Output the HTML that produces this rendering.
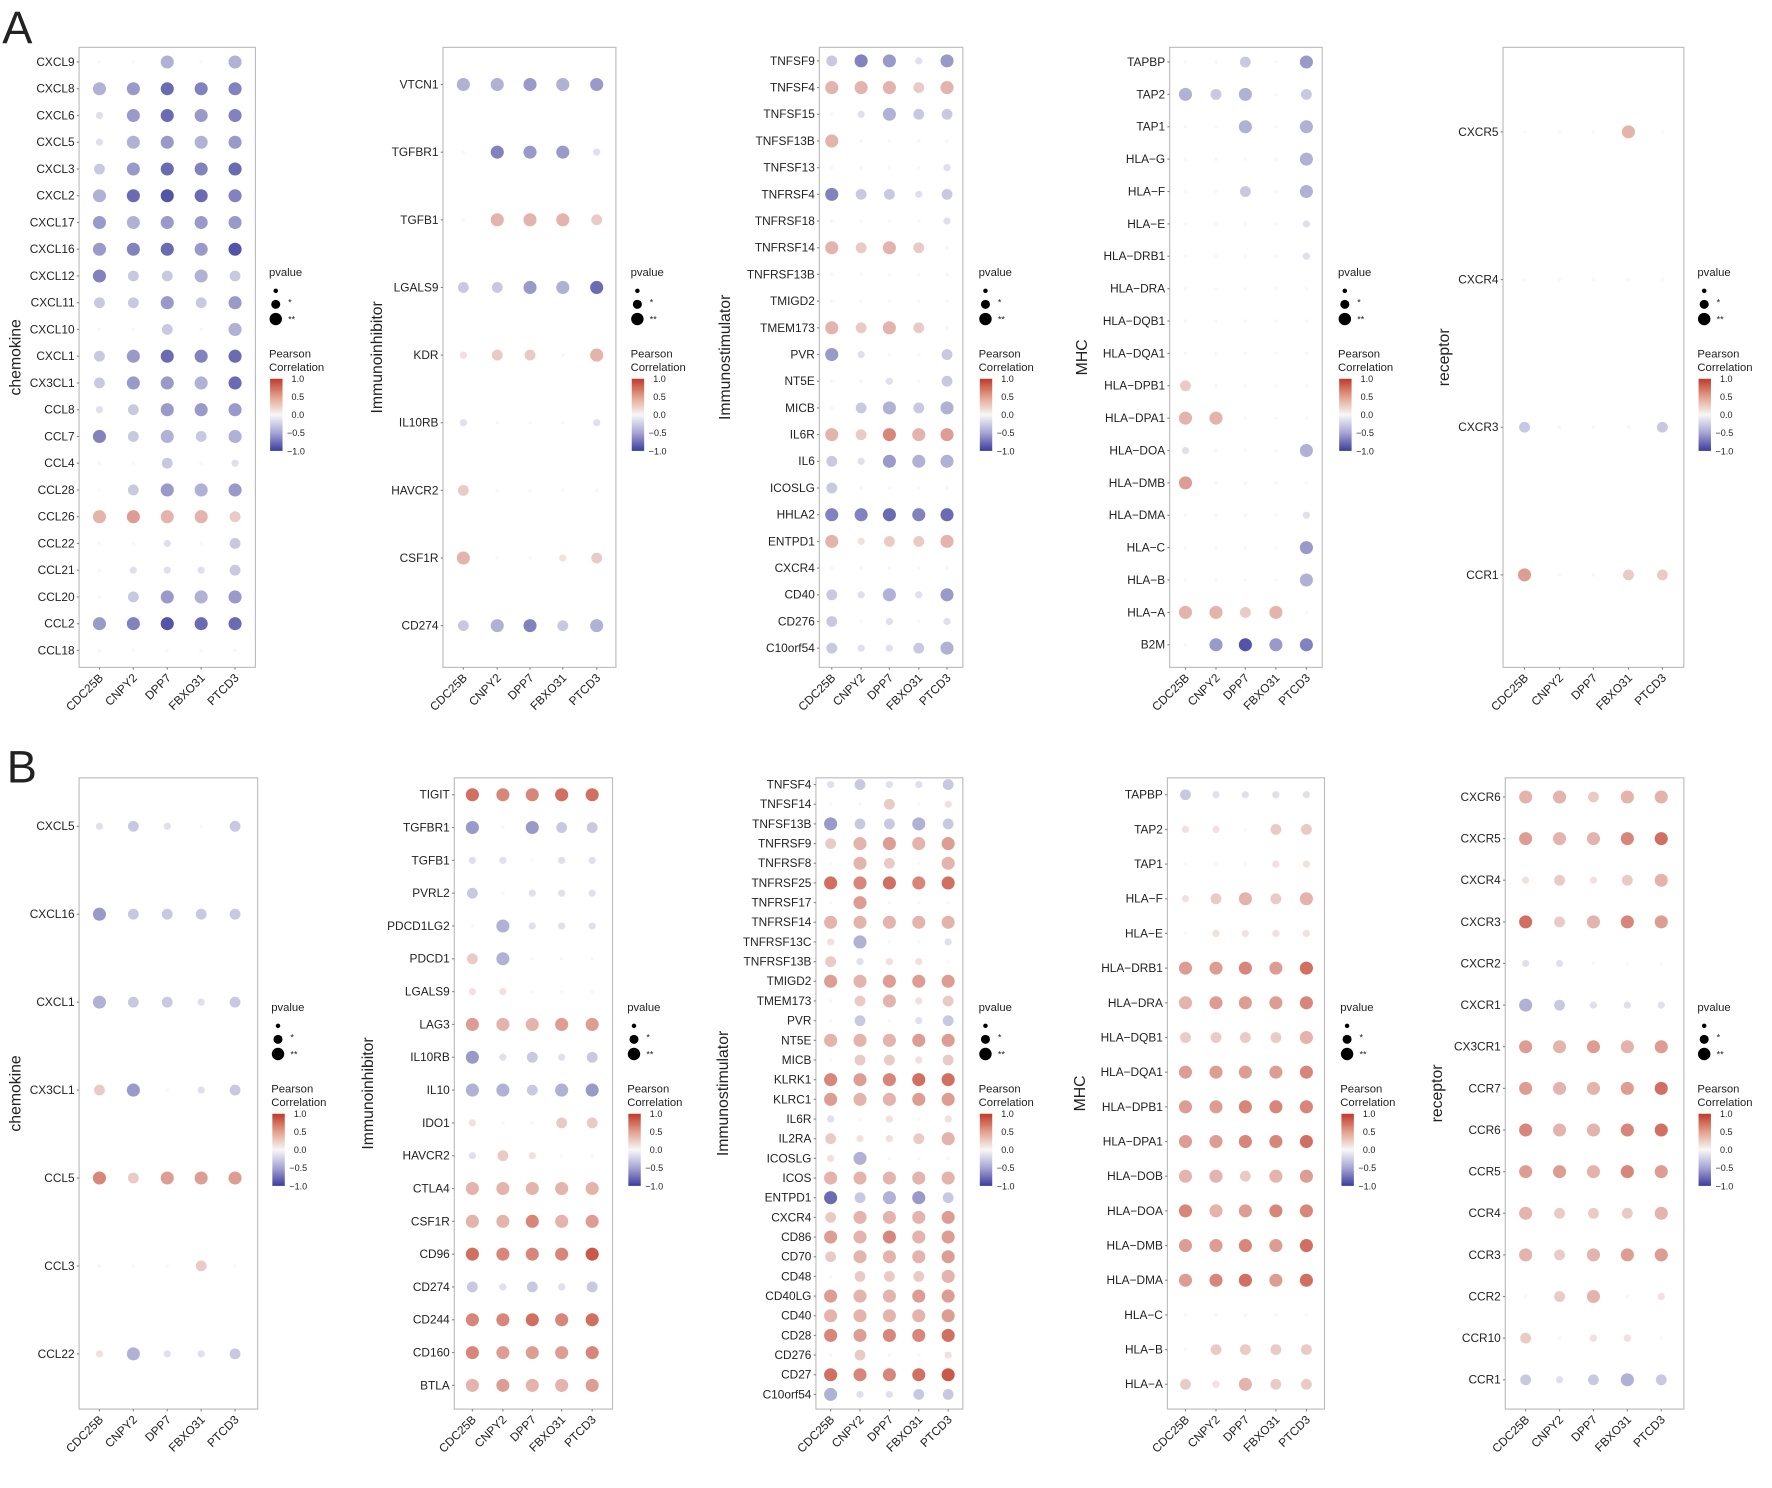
<!DOCTYPE html>
<html><head><meta charset="utf-8"><style>
html,body{margin:0;padding:0;background:#fff;}
svg{display:block;}
text{font-family:"Liberation Sans",Arial,sans-serif;fill:#222;}
</style></head><body>
<svg id="s" width="1772" height="1488" viewBox="0 0 1568 1320" preserveAspectRatio="none" xmlns="http://www.w3.org/2000/svg">
<defs><linearGradient id="g" x1="0" y1="0" x2="0" y2="1">
<stop offset="0" stop-color="#c0392b"/><stop offset="0.25" stop-color="#e3a08c"/><stop offset="0.5" stop-color="#f7f7f7"/><stop offset="0.75" stop-color="#a7a4d4"/><stop offset="1" stop-color="#3b3d9e"/></linearGradient></defs>
<text x="2" y="38" font-size="40">A</text>
<text x="6" y="694" font-size="40">B</text>
</svg>
<script>
var S=document.getElementById('s'),NS='http://www.w3.org/2000/svg';
function el(t,a,txt){var e=document.createElementNS(NS,t);for(var k in a)e.setAttribute(k,a[k]);if(txt!==undefined)e.textContent=txt;S.appendChild(e);return e;}
function col(n){var t=Math.min(1,Math.abs(n)/8);var w=[247,247,247],c=n>=0?[196,66,46]:[60,60,156];
return 'rgb('+w.map(function(v,i){return Math.round(v+(c[i]-v)*t)}).join(',')+')';}
var genes=['CDC25B','CNPY2','DPP7','FBXO31','PTCD3'];
function panel(p){
 el('rect',{x:p.b[0],y:p.b[2],width:p.b[1]-p.b[0],height:p.b[3]-p.b[2],fill:'none',stroke:'#bbb','stroke-width':1});
 var step=(p.yl-p.yf)/(p.rows.length-1);
 p.rows.forEach(function(r,i){var y=p.yf+i*step;
  el('text',{x:p.b[0]-4,y:y+3.5,'font-size':10.5,'text-anchor':'end'},r[0]);
  el('line',{x1:p.b[0]-2,x2:p.b[0],y1:y,y2:y,stroke:'#888'});
  r[1].forEach(function(n,j){var a=Math.abs(n);var rad=Math.min(5.8,1.6+1.6*a);
   el('circle',{cx:p.c[j],cy:y,r:rad,fill:col(n)});});
 });
 p.c.forEach(function(x,j){el('line',{x1:x,x2:x,y1:p.b[3],y2:p.b[3]+2,stroke:'#888'});
  el('text',{x:x+4,y:p.b[3]+10,'font-size':10.5,'text-anchor':'end',transform:'rotate(-45 '+(x+4)+' '+(p.b[3]+10)+')'},genes[j]);});
 var mid=(p.b[2]+p.b[3])/2;
 el('text',{x:p.tx,y:mid,'font-size':14,'text-anchor':'middle',transform:'rotate(-90 '+p.tx+' '+mid+')'},p.t);
 var L=p.L,o=p.o;
 el('text',{x:L,y:245+o,'font-size':10},'pvalue');
 el('circle',{cx:L+6,cy:258+o,r:2,fill:'#000'});
 el('circle',{cx:L+6,cy:270+o,r:4,fill:'#000'});el('text',{x:L+17,y:271+o,'font-size':8},'*');
 el('circle',{cx:L+6,cy:283+o,r:5.5,fill:'#000'});el('text',{x:L+17,y:286+o,'font-size':8},'**');
 el('text',{x:L,y:317+o,'font-size':10},'Pearson');el('text',{x:L,y:329+o,'font-size':10},'Correlation');
 el('rect',{x:L+1,y:336+o,width:11,height:64,fill:'url(#g)'});
 ['1.0','0.5','0.0','\u22120.5','\u22121.0'].forEach(function(s,i){el('text',{x:L+(i>2?16:20),y:339+o+i*16,'font-size':8},s);});
}
function R(s){return s.split(';').map(function(x){var q=x.split(':');return [q[0],q[1].split(',').map(Number)];});}
var A=0,B=652;
panel({b:[70,226,42,592],c:[88,118,148,178,208],yf:55,yl:577,L:238,o:A,tx:18,t:'chemokine',rows:R('CXCL9:0,0,-3,0,-3;CXCL8:-3,-4,-6,-5,-5;CXCL6:-1,-4,-6,-4,-5;CXCL5:-1,-3,-4,-3,-4;CXCL3:-2,-4,-6,-5,-6;CXCL2:-3,-6,-7,-6,-5;CXCL17:-4,-3,-4,-4,-4;CXCL16:-4,-5,-6,-4,-7;CXCL12:-5,-2,-2,-3,-2;CXCL11:-2,-2,-4,-2,-4;CXCL10:0,0,-2,0,-3;CXCL1:-2,-4,-6,-5,-6;CX3CL1:-2,-4,-4,-3,-6;CCL8:-1,-2,-4,-4,-4;CCL7:-5,-2,-3,-2,-3;CCL4:0,0,-2,0,-1;CCL28:0,-2,-4,-3,-4;CCL26:3,4,3,3,2;CCL22:0,0,-1,0,-2;CCL21:0,-1,-1,-1,-2;CCL20:0,-2,-4,-3,-4;CCL2:-4,-5,-7,-6,-6;CCL18:0,0,0,0,0')});
panel({b:[392,545,42,592],c:[410,440,469,498,528],yf:75,yl:555,L:558,o:A,tx:338,t:'Immunoinhibitor',rows:R('VTCN1:-3,-3,-4,-3,-4;TGFBR1:0,-5,-4,-4,-1;TGFB1:0,3,3,3,2;LGALS9:-2,-2,-4,-3,-6;KDR:1,2,2,0,3;IL10RB:-1,0,0,0,-1;HAVCR2:2,0,0,0,0;CSF1R:3,0,0,1,2;CD274:-2,-3,-5,-2,-3')});
panel({b:[725,852,42,592],c:[736,762,787,813,838],yf:54,yl:575,L:866,o:A,tx:646,t:'Immunostimulator',rows:R('TNFSF9:-2,-5,-4,-1,-4;TNFSF4:3,3,3,2,3;TNFSF15:0,-1,-3,-2,-2;TNFSF13B:3,0,0,0,0;TNFSF13:0,0,0,0,-1;TNFRSF4:-5,-2,-2,-1,-2;TNFRSF18:0,0,0,0,-1;TNFRSF14:3,2,3,2,0;TNFRSF13B:0,0,0,0,0;TMIGD2:0,0,0,0,0;TMEM173:3,2,3,2,0;PVR:-4,-1,0,0,-2;NT5E:0,0,-1,0,-2;MICB:0,-2,-3,-2,-3;IL6R:3,2,5,3,4;IL6:-2,-1,-4,-3,-3;ICOSLG:-2,0,0,0,0;HHLA2:-5,-5,-6,-5,-6;ENTPD1:3,1,2,2,3;CXCR4:0,0,0,0,0;CD40:-2,-1,-3,-1,-4;CD276:-2,0,-1,0,-1;C10orf54:-2,-1,-1,-2,-3')});
panel({b:[1035,1170,42,592],c:[1049,1076,1102,1129,1156],yf:55,yl:572,L:1184,o:A,tx:962,t:'MHC',rows:R('TAPBP:0,0,-2,0,-4;TAP2:-3,-2,-3,0,-2;TAP1:0,0,-3,0,-3;HLA\u2212G:0,0,0,0,-3;HLA\u2212F:0,0,-2,0,-3;HLA\u2212E:0,0,0,0,-1;HLA\u2212DRB1:0,0,0,0,-1;HLA\u2212DRA:0,0,0,0,0;HLA\u2212DQB1:0,0,0,0,0;HLA\u2212DQA1:0,0,0,0,0;HLA\u2212DPB1:2,0,0,0,0;HLA\u2212DPA1:3,3,0,0,0;HLA\u2212DOA:-1,0,0,0,-3;HLA\u2212DMB:4,0,0,0,0;HLA\u2212DMA:0,0,0,0,-1;HLA\u2212C:0,0,0,0,-4;HLA\u2212B:0,0,0,0,-3;HLA\u2212A:3,3,2,3,0;B2M:0,-4,-7,-4,-5')});
panel({b:[1330,1490,42,592],c:[1349,1380,1410,1441,1471],yf:117,yl:510,L:1502,o:A,tx:1282,t:'receptor',rows:R('CXCR5:0,0,0,3,0;CXCR4:0,0,0,0,0;CXCR3:-2,0,0,0,-2;CCR1:4,0,0,2,2')});
panel({b:[70,228,690,1250],c:[88,118,148,178,208],yf:733,yl:1201,L:240,o:B,tx:18,t:'chemokine',rows:R('CXCL5:-1,-2,-1,0,-2;CXCL16:-4,-2,-2,-2,-2;CXCL1:-3,-2,-2,-1,-2;CX3CL1:2,-4,0,-1,-2;CCL5:5,2,4,4,4;CCL3:0,0,0,2,0;CCL22:1,-3,-1,-1,-2')});
panel({b:[402,542,690,1250],c:[418,445,471,497,524],yf:705,yl:1229,L:555,o:B,tx:330,t:'Immunoinhibitor',rows:R('TIGIT:6,5,5,6,6;TGFBR1:-4,0,-4,-2,-2;TGFB1:-1,-1,0,-1,-1;PVRL2:-2,0,-1,-1,-1;PDCD1LG2:0,-3,-1,-1,-1;PDCD1:2,-3,0,0,0;LGALS9:1,1,0,0,0;LAG3:4,3,3,4,4;IL10RB:-4,-1,-2,-1,-2;IL10:-3,-3,-2,-3,-4;IDO1:1,0,0,2,2;HAVCR2:-1,2,1,0,0;CTLA4:3,3,3,3,3;CSF1R:3,3,5,3,4;CD96:6,5,5,5,7;CD274:-2,-1,-2,-1,-2;CD244:5,5,6,5,6;CD160:5,4,4,4,5;BTLA:3,4,3,3,4')});
panel({b:[722,852,690,1250],c:[735,761,787,813,839],yf:696,yl:1237,L:866,o:B,tx:644,t:'Immunostimulator',rows:R('TNFSF4:-1,-2,-1,-1,-2;TNFSF14:0,0,2,0,1;TNFSF13B:-4,-2,-2,-3,-2;TNFRSF9:2,3,4,3,4;TNFRSF8:0,3,2,0,3;TNFRSF25:6,5,6,5,6;TNFRSF17:0,4,0,0,0;TNFRSF14:3,3,3,3,3;TNFRSF13C:1,-3,0,0,-1;TNFRSF13B:2,-1,1,1,0;TMIGD2:4,3,4,4,4;TMEM173:0,2,3,1,2;PVR:0,-2,0,-1,-2;NT5E:3,3,3,4,4;MICB:0,2,2,1,2;KLRK1:5,4,5,6,6;KLRC1:4,3,3,4,4;IL6R:-1,0,1,0,1;IL2RA:2,1,1,2,3;ICOSLG:1,-3,0,0,0;ICOS:3,3,3,3,3;ENTPD1:-6,-2,-3,-4,-2;CXCR4:2,3,3,3,4;CD86:4,3,5,3,4;CD70:2,3,3,3,4;CD48:0,2,2,2,3;CD40LG:4,3,3,4,4;CD40:3,3,3,3,4;CD28:5,4,5,5,6;CD276:0,2,0,0,1;CD27:6,5,5,6,7;C10orf54:-3,-1,-1,-2,-2')});
panel({b:[1033,1172,690,1250],c:[1049,1076,1102,1129,1156],yf:705,yl:1228,L:1186,o:B,tx:960,t:'MHC',rows:R('TAPBP:-2,-1,-1,-1,-1;TAP2:1,1,0,2,2;TAP1:0,0,0,1,1;HLA\u2212F:1,2,3,2,3;HLA\u2212E:0,1,1,1,1;HLA\u2212DRB1:4,4,5,4,6;HLA\u2212DRA:3,4,4,4,5;HLA\u2212DQB1:2,2,2,2,3;HLA\u2212DQA1:4,4,4,4,5;HLA\u2212DPB1:4,4,5,5,5;HLA\u2212DPA1:4,4,5,5,6;HLA\u2212DOB:3,3,2,3,4;HLA\u2212DOA:5,3,4,5,5;HLA\u2212DMB:4,4,5,4,6;HLA\u2212DMA:4,5,6,4,6;HLA\u2212C:0,0,0,0,0;HLA\u2212B:0,2,2,2,2;HLA\u2212A:2,1,3,2,2')});
panel({b:[1332,1490,690,1250],c:[1350,1380,1410,1440,1470],yf:707,yl:1224,L:1502,o:B,tx:1276,t:'receptor',rows:R('CXCR6:3,3,2,3,3;CXCR5:4,3,3,5,6;CXCR4:1,2,1,2,3;CXCR3:6,2,3,5,4;CXCR2:-1,-1,0,0,0;CXCR1:-3,-2,-1,-1,-1;CX3CR1:4,3,4,3,4;CCR7:4,3,3,4,6;CCR6:5,3,3,5,6;CCR5:4,4,3,5,4;CCR4:3,2,2,2,3;CCR3:3,2,3,4,4;CCR2:0,2,3,0,1;CCR10:2,0,1,1,0;CCR1:-2,-1,-2,-3,-2')});
</script>
</body></html>
